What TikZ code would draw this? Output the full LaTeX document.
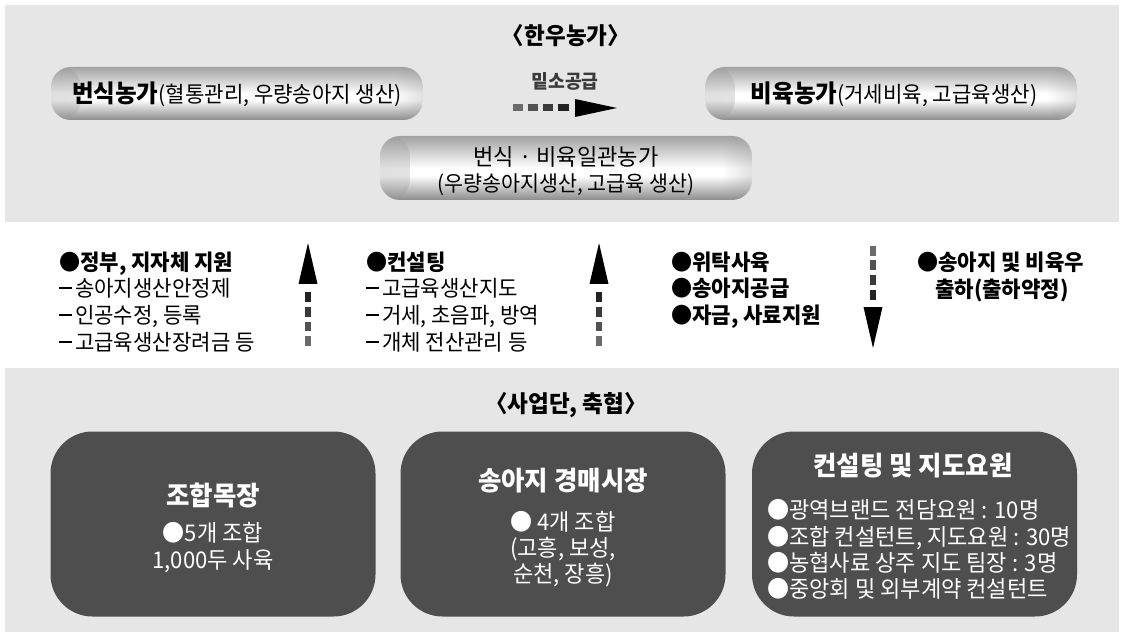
\documentclass[tikz,border=0pt]{standalone}
\usepackage{fontspec}
\setmainfont{Noto Sans CJK KR}[FakeStretch=0.96]
\newfontfamily\halffont[RawFeature=+halt,FakeStretch=0.96]{Noto Sans CJK KR}
\usetikzlibrary{fadings}
\definecolor{band}{HTML}{E6E6E6}
\definecolor{boxdark}{HTML}{4E4E4E}
\definecolor{pilltop}{HTML}{A2A2A2}
\definecolor{pillbot}{HTML}{8C8C8C}
\definecolor{dA}{HTML}{6A6A6A}
\definecolor{dB}{HTML}{525252}
\definecolor{dC}{HTML}{3A3A3A}
\definecolor{dD}{HTML}{222222}
\definecolor{softblack}{HTML}{3A3A3A}
\pgfdeclareverticalshading{pillshade}{100bp}{color(0bp)=(pillbot); color(25bp)=(pillbot); color(44bp)=(white); color(50bp)=(white); color(75bp)=(pilltop); color(100bp)=(pilltop)}
\tikzfading[name=fadeR, left color=transparent!70, right color=transparent!100]
\tikzfading[name=fadeL, left color=transparent!100, right color=transparent!70]
\newcommand{\fsz}[1]{\fontsize{#1}{#1}\selectfont}
\newcommand{\dsh}{\rule[0.36em]{0.6em}{0.065em}\hspace{0.12em}}
\tikzset{
  tx/.style={inner sep=0pt},
  ttl/.style={tx, font=\fsz{23.5}\bfseries, text height=20pt, text depth=1.6pt},
  mid/.style={tx, anchor=west, font=\fsz{22}, text height=18.7pt, text depth=1.5pt},
  midb/.style={mid, font=\fsz{22}\bfseries},
  pilltxt/.style={tx, text height=20pt, text depth=1.7pt},
  bt/.style={tx, text=white, font=\fsz{26.5}\bfseries, text height=22.5pt, text depth=1.9pt},
  bb/.style={tx, text=white, font=\fsz{23}, text height=19.5pt, text depth=1.6pt},
  pill/.style={rounded corners=20pt, shading=pillshade, inner sep=0pt,
    path picture={
      \fill[gray!80, path fading=fadeR] (path picture bounding box.north west) rectangle ([xshift=30pt]path picture bounding box.south west);
      \fill[gray!80, path fading=fadeL] ([xshift=-30pt]path picture bounding box.north east) rectangle (path picture bounding box.south east);
    }},
  darkbox/.style={rounded corners=42pt, fill=boxdark, inner sep=0pt, minimum width=325pt, minimum height=185pt},
  uparr/.pic={
    \fill[dA] (-3,-10) rectangle (3,0);
    \fill[dB] (-3,-24) rectangle (3,-15);
    \fill[dC] (-3,-39) rectangle (3,-29);
    \fill[dD] (-3,-54) rectangle (3,-44);
    \fill[black] (-9.5,-62) -- (0,-103) -- (9.5,-62) -- cycle;
  },
  downarr/.pic={
    \fill[dA] (-3,0) rectangle (3,10);
    \fill[dB] (-3,14) rectangle (3,24);
    \fill[dC] (-3,29) rectangle (3,39);
    \fill[dD] (-3,44) rectangle (3,54);
    \fill[black] (-9.5,61) -- (0,102) -- (9.5,61) -- cycle;
  },
  rightarr/.pic={
    \fill[dA] (0,-3.5) rectangle (10,3.5);
    \fill[dB] (15,-3.5) rectangle (25,3.5);
    \fill[dC] (30,-3.5) rectangle (40,3.5);
    \fill[dD] (45,-3.5) rectangle (56,3.5);
    \fill[black] (62,-9) -- (104,0) -- (62,9) -- cycle;
  }
}
\begin{document}
\begin{tikzpicture}[x=1pt,y=-1pt]
\useasboundingbox (0,0) rectangle (1124,636);
\fill[white] (0,0) rectangle (1124,636);
\fill[band] (5,5) rectangle (1119,222);
\fill[band] (5,368) rectangle (1119,632);

% ---- top band ----
\node[ttl] (title1) at (566,35) {{\halffont\bfseries 〈}한우농가{\halffont\bfseries 〉}};

\node[pill, minimum width=372pt, minimum height=53pt] (pL) at (237,93.5) {};
\node[pilltxt] (pLt) at (pL.center) {{\fsz{24.5}\bfseries 번식농가}{\fsz{22}(혈통관리, 우량송아지 생산)}};

\node[pill, minimum width=372pt, minimum height=53pt] (pR) at (891,93.5) {};
\node[pilltxt] (pRt) at (894,93.5) {{\fsz{24.5}\bfseries 비육농가}{\fsz{22}(거세비육, 고급육생산)}};

\node[pill, minimum width=372pt, minimum height=64pt] (pC) at (566,168) {};
\node[pilltxt, font=\fsz{23}] (pCa) at (566,156) {번식 · 비육일관농가};
\node[pilltxt, font=\fsz{21.5}] (pCb) at (566,182) {(우량송아지생산, 고급육 생산)};

\node[tx, font=\fsz{19}\bfseries, text=softblack, text height=16.2pt, text depth=1.3pt] (supply) at (565,81) {밑소공급};
\pic (arrS) at (513,108) {rightarr};

% ---- middle ----
\node[midb] (c1a) at (59,262) {●정부, 지자체 지원};
\node[mid]  (c1b) at (59,288) {\dsh 송아지생산안정제};
\node[mid]  (c1c) at (59,315) {\dsh 인공수정, 등록};
\node[mid]  (c1d) at (59,342) {\dsh 고급육생산장려금 등};

\pic (arr1) at (308,346) {uparr};

\node[midb] (c2a) at (366,262) {●컨설팅};
\node[mid]  (c2b) at (366,288) {\dsh 고급육생산지도};
\node[mid]  (c2c) at (366,315) {\dsh 거세, 초음파, 방역};
\node[mid]  (c2d) at (366,342) {\dsh 개체 전산관리 등};

\pic (arr2) at (599,346) {uparr};

\node[midb] (c3a) at (671,262) {●위탁사육};
\node[midb] (c3b) at (671,288) {●송아지공급};
\node[midb] (c3c) at (671,315) {●자금, 사료지원};

\pic (arr3) at (873,246) {downarr};

\node[midb] (c4a) at (917,262) {●송아지 및 비육우};
\node[midb] (c4b) at (935,289) {출하(출하약정)};

% ---- bottom band ----
\node[ttl] (title2) at (566,403) {{\halffont\bfseries 〈}사업단, 축협{\halffont\bfseries 〉}};

\node[darkbox] (b1) at (213,524) {};
\node[darkbox] (b2) at (563,524) {};
\node[darkbox] (b3) at (914.5,524) {};

\node[bt] (b1t) at (213,495) {조합목장};
\node[bb] (b1a) at (213,533) {●5개 조합};
\node[bb] (b1b) at (213,560) {1,000두 사육};

\node[bt] (b2t) at (563,480) {송아지 경매시장};
\node[bb] (b2a) at (563,522) {● 4개 조합};
\node[bb] (b2b) at (563,548) {(고흥, 보성,};
\node[bb] (b2c) at (563,574) {순천, 장흥)};

\node[bt] (b3t) at (913,465) {컨설팅 및 지도요원};
\node[bb, anchor=west] (b3a) at (767,510) {●광역브랜드 전담요원 : 10명};
\node[bb, anchor=west] (b3b) at (767,537) {●조합 컨설턴트, 지도요원 : 30명};
\node[bb, anchor=west] (b3c) at (767,563) {●농협사료 상주 지도 팀장 : 3명};
\node[bb, anchor=west] (b3d) at (767,589) {●중앙회 및 외부계약 컨설턴트};
\end{tikzpicture}
\end{document}
